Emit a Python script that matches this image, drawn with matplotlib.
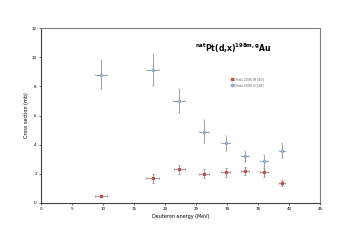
import matplotlib
matplotlib.use("Agg")
import matplotlib.pyplot as plt

energy = [9.7, 18.0, 22.3, 26.3, 29.8, 32.9, 36.0, 38.9]
energy_err_m = [1.0, 1.0, 0.9, 0.8, 0.7, 0.7, 0.6, 0.5]
energy_err_g = [1.0, 1.0, 1.0, 0.8, 0.7, 0.7, 0.6, 0.5]
xs_m = [0.5, 1.7, 2.3, 2.0, 2.1, 2.2, 2.1, 1.4]
xs_m_err = [0.08, 0.3, 0.3, 0.3, 0.3, 0.3, 0.3, 0.2]
xs_g = [8.8, 9.1, 7.0, 4.9, 4.1, 3.2, 2.9, 3.6]
xs_g_err = [1.0, 1.1, 0.8, 0.8, 0.5, 0.4, 0.4, 0.5]
labels = ["Ditrói 2006 M [40]", "Ditrói 2006 G [40]"]

fig = plt.figure(figsize=(3.51, 2.48), dpi=100)
ax = fig.add_axes([41/351, 1-203/248, (320-41)/351, (203-28)/248])

ecol = "#909090"
c1 = ax.errorbar(energy, xs_m, yerr=xs_m_err, xerr=energy_err_m, fmt="s", ms=1.8,
                 mfc="#c0504d", mec="#c0504d", ecolor=ecol, elinewidth=0.6, capsize=0.9,
                 capthick=0.6)
c2 = ax.errorbar(energy, xs_g, yerr=xs_g_err, xerr=energy_err_g, fmt="D", ms=1.8,
                 mfc="#9bb7d9", mec="#4f81bd", mew=0.3, ecolor=ecol, elinewidth=0.6, capsize=0.9,
                 capthick=0.6)

ax.set_xlim(0, 45)
ax.set_ylim(0, 12)
ax.set_xticks(range(0, 46, 5))
ax.set_yticks(range(0, 13, 2))
ax.tick_params(labelsize=3, length=1.5, width=0.4, pad=1.5)
for s in ax.spines.values():
    s.set_linewidth(0.8)
    s.set_color("#808080")
ax.spines["left"].set_color("#404040")
ax.spines["bottom"].set_color("#404040")
ax.set_xlabel("Deuteron energy (MeV)", fontsize=3.5, labelpad=2)
ax.set_ylabel("Cross section (mb)", fontsize=3.5, labelpad=2)

ax.text(0.69, 0.886, r"$^{\mathbf{nat}}$Pt(d,x)$^{\mathbf{198m,g}}$Au", transform=ax.transAxes,
        ha="center", va="center", fontsize=5.5, fontweight="bold")

leg = ax.legend([c1[0], c2[0]], labels, loc="center left", bbox_to_anchor=(0.675, 0.69),
                fontsize=2.3, frameon=False, handlelength=0.6, handletextpad=0.4,
                labelspacing=0.5, borderpad=0)
for t in leg.get_texts():
    t.set_color("#606060")

fig.savefig("out.png", dpi=100)
